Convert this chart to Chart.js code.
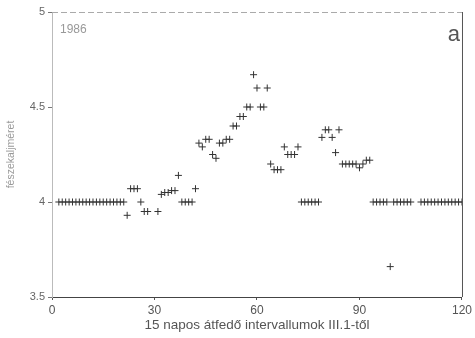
<!DOCTYPE html>
<html><head><meta charset="utf-8">
<script src="https://cdn.jsdelivr.net/npm/chart.js@4/dist/chart.umd.min.js"></script>
<style>html,body{margin:0;padding:0;background:#fff;}canvas{display:block;}</style>
</head><body>
<canvas id="c" width="475" height="338"></canvas>
<script>
const panelLabel = "a";
const yearLabel = "1986";
const xTitle = "15 napos átfedő intervallumok III.1-től";
const yTitle = "fészekaljméret";
const xTicks = [0, 30, 60, 90, 120];
const yTicks = [3.5, 4, 4.5, 5];
const xs = [2,3,4,5,6,7,8,9,10,11,12,13,14,15,16,17,18,19,20,21,
  22,23,24,25,26,27,28,31,32,33,34,35,36,37,38,39,40,41,42,
  43,44,45,46,47,48,49,50,51,52,53,54,55,56,57,58,59,60,61,62,63,
  64,65,66,67,68,69,70,71,72,73,74,75,76,77,78,
  79,80,81,82,83,84,85,86,87,88,89,90,91,92,93,
  94,95,96,97,98,99,100,101,102,103,104,105,
  108,109,110,111,112,113,114,115,116,117,118,119,120];
const ys = [4,4,4,4,4,4,4,4,4,4,4,4,4,4,4,4,4,4,4,4,
  3.93,4.07,4.07,4.07,4,3.95,3.95,3.95,4.04,4.05,4.05,4.06,4.06,4.14,4,4,4,4,4.07,
  4.31,4.29,4.33,4.33,4.25,4.23,4.31,4.31,4.33,4.33,4.4,4.4,4.45,4.45,4.5,4.5,4.67,4.6,4.5,4.5,4.6,
  4.2,4.17,4.17,4.17,4.29,4.25,4.25,4.25,4.29,4,4,4,4,4,4,
  4.34,4.38,4.38,4.34,4.26,4.38,4.2,4.2,4.2,4.2,4.2,4.18,4.2,4.22,4.22,
  4,4,4,4,4,3.66,4,4,4,4,4,4,
  4,4,4,4,4,4,4,4,4,4,4,4,4];

const points = xs.map((x, i) => ({x: x, y: ys[i]}));

const framePlugin = {
  id: 'frame',
  afterDraw(chart) {
    const {ctx, chartArea: a} = chart;
    ctx.save();
    ctx.strokeStyle = '#aaa';
    ctx.lineWidth = 1;
    ctx.setLineDash([6, 3]);
    ctx.beginPath(); ctx.moveTo(a.left, a.top + 0.5); ctx.lineTo(a.right, a.top + 0.5); ctx.stroke();
    ctx.setLineDash([]);
    ctx.strokeStyle = '#555';
    ctx.beginPath(); ctx.moveTo(a.right + 0.5, a.top); ctx.lineTo(a.right + 0.5, a.bottom); ctx.stroke();
    ctx.fillStyle = '#999';
    ctx.font = '12px "Liberation Sans", Arial, sans-serif';
    ctx.textBaseline = 'middle';
    ctx.textAlign = 'left';
    ctx.fillText(yearLabel, a.left + 8, a.top + 18);
    ctx.fillStyle = '#555';
    ctx.font = '22px "Liberation Sans", Arial, sans-serif';
    ctx.textAlign = 'right';
    ctx.fillText(panelLabel, a.right - 2, a.top + 23);
    ctx.restore();
  }
};

new Chart(document.getElementById('c'), {
  type: 'scatter',
  data: { datasets: [{
    data: points,
    pointStyle: 'cross',
    pointRadius: 3.5,
    pointHoverRadius: 3.5,
    pointBorderWidth: 1,
    pointBorderColor: '#333',
    pointBackgroundColor: '#333'
  }]},
  options: {
    responsive: false,
    animation: false,
    events: [],
    layout: { padding: { left: 0, right: 12, top: 12, bottom: 0 } },
    plugins: { legend: { display: false }, tooltip: { enabled: false } },
    scales: {
      x: {
        type: 'linear', min: 0, max: 120,
        afterBuildTicks: s => { s.ticks = xTicks.map(v => ({value: v})); },
        afterFit: s => { s.height = 41; },
        grid: { display: true, drawOnChartArea: false, drawTicks: true, tickLength: 3, color: '#555' },
        border: { display: true, color: '#444', width: 1 },
        ticks: { color: '#555', padding: 3, maxRotation: 0, font: { family: '"Liberation Sans", Arial, sans-serif', size: 12 } },
        title: { display: true, text: xTitle, color: '#555', padding: { top: 0, bottom: 5 }, font: { family: '"Liberation Sans", Arial, sans-serif', size: 13.5 } }
      },
      y: {
        type: 'linear', min: 3.5, max: 5,
        afterBuildTicks: s => { s.ticks = yTicks.map(v => ({value: v})); },
        afterFit: s => { s.width = 52; },
        grid: { display: true, drawOnChartArea: false, drawTicks: true, tickLength: 4, color: '#777' },
        border: { display: true, color: '#bbb', width: 1, dash: [4, 3] },
        ticks: { color: '#666', padding: 3, font: { family: '"Liberation Sans", Arial, sans-serif', size: 11 },
          callback: v => String(v) },
        title: { display: true, text: yTitle, color: '#999', padding: { top: 5, bottom: 0 }, font: { family: '"Liberation Sans", Arial, sans-serif', size: 10.5 } }
      }
    }
  },
  plugins: [framePlugin]
});
</script>
</body></html>
